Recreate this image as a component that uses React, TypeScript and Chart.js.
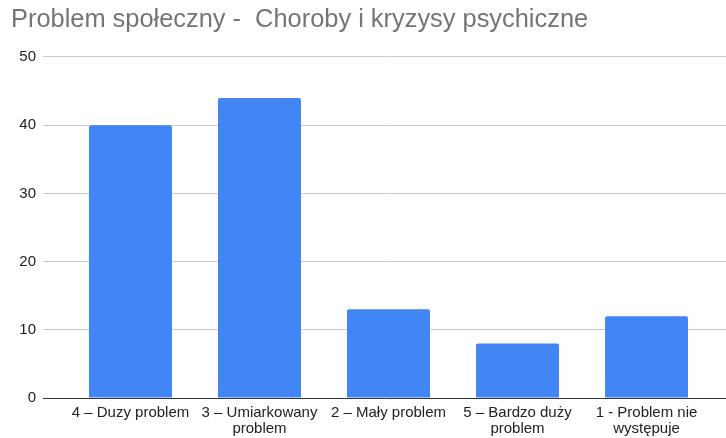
import React, { useEffect, useRef } from "react";
import { Chart, registerables } from "chart.js";

Chart.register(...registerables);

const TITLE = "Problem społeczny -  Choroby i kryzysy psychiczne";
const categories: string[][] = [
  ["4 – Duzy problem"],
  ["3 – Umiarkowany", "problem"],
  ["2 – Mały problem"],
  ["5 – Bardzo duży", "problem"],
  ["1 - Problem nie", "występuje"],
];
const values: number[] = [40, 44, 13, 8, 12];
const yMin = 0;
const yMax = 50;
const yStep = 10;

const FONT = "Arial, 'Liberation Sans', sans-serif";

export default function App() {
  const ref = useRef<HTMLCanvasElement | null>(null);

  useEffect(() => {
    if (!ref.current) return;
    const chart = new Chart(ref.current, {
      type: "bar",
      data: {
        datasets: [
          {
            data: values.map((v, i) => ({ x: i, y: v })),
            backgroundColor: "#4285F4",
            categoryPercentage: 1,
            barPercentage: 0.643,
            borderRadius: 2,
          } as any,
        ],
      },
      options: {
        animation: false,
        responsive: false,
        maintainAspectRatio: false,
        layout: { padding: { left: 11, right: 0, top: 0, bottom: 0 } },
        plugins: {
          legend: { display: false },
          tooltip: { enabled: false },
          title: {
            display: true,
            text: TITLE,
            align: "start",
            color: "#757575",
            font: { family: FONT, size: 25.4, weight: "normal", lineHeight: 1.2 },
            padding: { top: 5, bottom: 21.5 },
          },
        },
        scales: {
          x: {
            type: "linear",
            offset: false,
            min: -0.678,
            max: 4.616,
            grid: { display: false, drawTicks: false, tickLength: 0 },
            border: { display: false },
            afterBuildTicks: (s: any) => {
              s.ticks = categories.map((_, i) => ({ value: i }));
            },
            afterFit: (s: any) => {
              s.height = 40;
            },
            ticks: {
              autoSkip: false,
              maxRotation: 0,
              minRotation: 0,
              padding: 7,
              color: "#222222",
              font: { family: FONT, size: 15, lineHeight: 1.07 },
              callback: (v: any) => categories[v as number] ?? "",
            },
          },
          y: {
            min: yMin,
            max: yMax,
            ticks: {
              stepSize: yStep,
              padding: 7,
              color: "#222222",
              font: { family: FONT, size: 15 },
            },
            grid: {
              drawTicks: false,
              tickLength: 0,
              color: (c: any) => (c.tick && c.tick.value === 0 ? "#333333" : "#cccccc"),
            },
            border: { display: false },
            afterFit: (s: any) => {
              s.width = 32;
            },
          },
        },
      } as any,
    });
    return () => chart.destroy();
  }, []);

  return (
    <div style={{ position: "absolute", left: 0, top: 0, width: 726, height: 438, background: "#fff" }}>
      <canvas ref={ref} width={726} height={438} style={{ display: "block" }} />
    </div>
  );
}
